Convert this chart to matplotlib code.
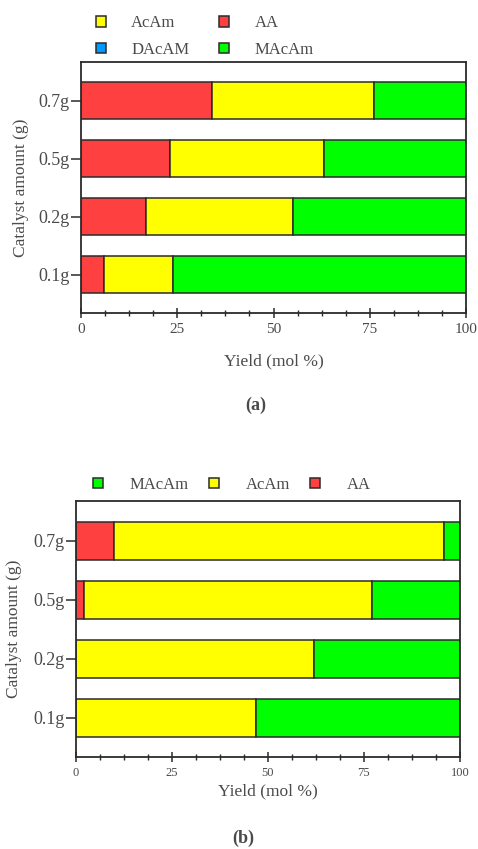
import matplotlib
matplotlib.use("Agg")
import matplotlib.pyplot as plt
from matplotlib.ticker import MultipleLocator
import numpy as np

plt.rcParams["font.family"] = ["Liberation Serif", "DejaVu Serif"]

TXT = "#4a4a4a"
EDGE = "#2b2b2b"

amounts = ["0.1g", "0.2g", "0.5g", "0.7g"]

# panel (a), mol %
a_AA = [6, 17, 23, 34]
a_DAcAM = [0, 0, 0, 0]
a_AcAm = [18, 38, 40, 42]
a_MAcAm = [76, 45, 37, 24]

# panel (b), mol %
b_AA = [0, 0, 2, 10]
b_AcAm = [47, 62, 75, 86]
b_MAcAm = [53, 38, 23, 4]

colors = {"AA": "#ff4040", "DAcAM": "#0099ff", "AcAm": "#ffff00", "MAcAm": "#00ff00"}


def stacked(ax, series):
    y = np.arange(len(amounts))
    left = np.zeros(len(amounts))
    handles = {}
    for name, vals in series:
        vals = np.array(vals, dtype=float)
        bars = ax.barh(y, vals, left=left, height=0.64, color=colors[name],
                       edgecolor=EDGE, linewidth=1.1, label=name)
        handles[name] = bars
        left += vals
    ax.set_yticks(y, amounts)
    ax.set_xlim(0, 100)
    ax.set_ylim(-0.66, 3.67)
    ax.xaxis.set_major_locator(MultipleLocator(25))
    ax.xaxis.set_minor_locator(MultipleLocator(6.25))
    ax.tick_params(axis="x", which="major", direction="inout", length=7, width=1.1,
                   color=EDGE, labelcolor=TXT, pad=4)
    ax.tick_params(axis="x", which="minor", direction="inout", length=4, width=1,
                   color=EDGE)
    ax.tick_params(axis="y", direction="out", length=7, width=1.1, color=EDGE,
                   labelcolor=TXT, labelsize=13, pad=1)
    for sp in ax.spines.values():
        sp.set_color(EDGE)
        sp.set_linewidth(1.3)
    ax.set_ylabel("Catalyst amount (g)", fontsize=12.5, color=TXT)
    ax.set_xlabel("Yield (mol %)", fontsize=12.5, color=TXT)
    return handles


fig = plt.figure(figsize=(4.78, 8.49), dpi=100)

ax1 = fig.add_axes([0.1695, 0.6313, 0.8055, 0.2957])
h1 = stacked(ax1, [("AA", a_AA), ("DAcAM", a_DAcAM), ("AcAm", a_AcAm), ("MAcAm", a_MAcAm)])
ax1.tick_params(axis="x", labelsize=11)
ax1.xaxis.labelpad = 12
ax1.yaxis.labelpad = 7
order = ["AcAm", "DAcAM", "AA", "MAcAm"]
ax1.legend([h1[k] for k in order], order, ncol=2, loc="center left",
           bbox_to_anchor=(0.17, 0.957), bbox_transform=fig.transFigure,
           frameon=False, fontsize=12, handlelength=0.6, handleheight=0.6,
           handletextpad=1.5, columnspacing=1.8, labelspacing=0.65, labelcolor=TXT)
fig.text(0.535, 0.522, "(a)", ha="center", va="center", fontsize=13,
         fontweight="bold", color=TXT)

ax2 = fig.add_axes([0.159, 0.1084, 0.803, 0.3015])
h2 = stacked(ax2, [("AA", b_AA), ("AcAm", b_AcAm), ("MAcAm", b_MAcAm)])
ax2.tick_params(axis="x", labelsize=9)
ax2.xaxis.labelpad = 3
ax2.yaxis.labelpad = 8
order = ["MAcAm", "AcAm", "AA"]
ax2.legend([h2[k] for k in order], order, ncol=3, loc="center left",
           bbox_to_anchor=(0.163, 0.4287), bbox_transform=fig.transFigure,
           frameon=False, fontsize=12, handlelength=0.6, handleheight=0.6,
           handletextpad=1.6, columnspacing=1.2, labelcolor=TXT)
fig.text(0.508, 0.013, "(b)", ha="center", va="center", fontsize=13,
         fontweight="bold", color=TXT)

fig.savefig("out.png", dpi=100)
